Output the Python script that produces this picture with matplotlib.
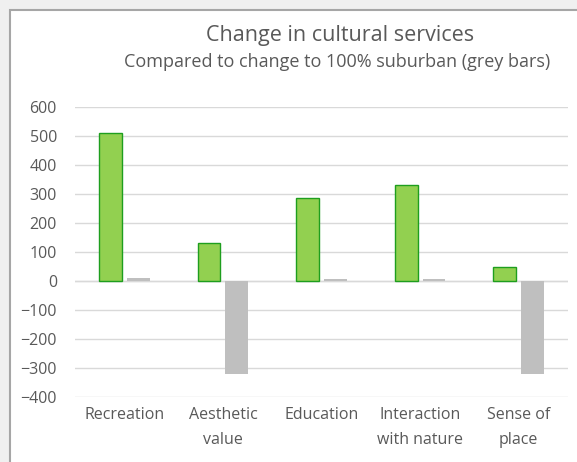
import matplotlib
matplotlib.use("Agg")
import matplotlib.pyplot as plt
from matplotlib.patches import Rectangle
import numpy as np

plt.rcParams['font.family'] = ['Open Sans', 'DejaVu Sans']

categories = ["Recreation", "Aesthetic\nvalue", "Education", "Interaction\nwith nature", "Sense of\nplace"]
scenario_change = [510, 130, 285, 333, 48]
suburban_change = [10, -320, 5, 5, -320]
y_ticks = [600, 500, 400, 300, 200, 100, 0, -100, -200, -300, -400]

W, H = 577, 462
fig = plt.figure(figsize=(W / 100, H / 100), dpi=100)
fig.patch.set_facecolor("#f0f0f0")

# chart area panel with border (extends past right/bottom edges)
panel = Rectangle((9.5 / W, -0.1), 1.1, 1.1 - 9.5 / H, transform=fig.transFigure,
                  facecolor="white", edgecolor="#a6a6a6", linewidth=1.5, zorder=-5)
fig.patches.append(panel)

left, right = 75 / W, 568 / W
bottom, top = 1 - 396.7 / H, 1 - 107.3 / H
ax = fig.add_axes([left, bottom, right - left, top - bottom])
ax.set_facecolor("none")

x = np.arange(len(categories))
bw = 0.23
off = 0.141
ax.bar(x - off, scenario_change, width=bw, color="#92d050", edgecolor="#1e9e1e",
       linewidth=1.0, zorder=3)
ax.bar(x + off, suburban_change, width=bw, color="#bfbfbf", edgecolor="none", zorder=3)

ax.set_xlim(-0.5, len(categories) - 0.5)
ax.set_ylim(-400, 600)
ax.set_yticks(y_ticks)
ax.yaxis.grid(True, color="#d9d9d9", linewidth=1.0, zorder=0)
ax.set_axisbelow(True)
ax.axhline(0, color="#d9d9d9", linewidth=1.0, zorder=1)
for s in ax.spines.values():
    s.set_visible(False)
ax.tick_params(axis="both", length=0, colors="#595959", labelsize=11.5)
ax.tick_params(axis="y", pad=13)
ax.set_xticks(x)
ax.set_xticklabels(categories, linespacing=1.72)
ax.tick_params(axis="x", pad=7.5)

fig.text(340 / W, 1 - 36 / H, "Change in cultural services", ha="center", va="center",
         fontsize=15.5, color="#595959")
fig.text(337 / W, 1 - 62 / H, "Compared to change to 100% suburban (grey bars)", ha="center",
         va="center", fontsize=13, color="#595959")

fig.savefig("out.png", dpi=100, facecolor=fig.get_facecolor())
